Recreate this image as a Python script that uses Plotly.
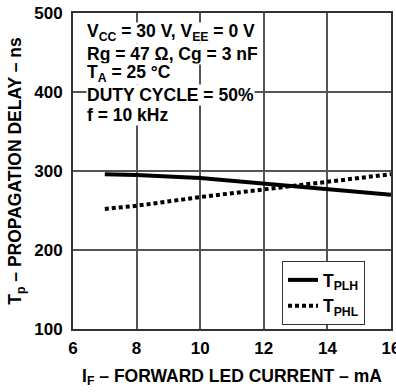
import plotly.graph_objects as go

x_current = [7, 8, 10, 12, 14, 16]
tplh = [296, 295, 291, 284, 277, 270]
tphl = [252, 256, 267, 277, 286, 296]

x_ticks = [6, 8, 10, 12, 14, 16]
y_ticks = [100, 200, 300, 400, 500]

cond_lines = [
    "V<sub>CC</sub> = 30 V, V<sub>EE</sub> = 0 V",
    "Rg = 47 Ω, Cg = 3 nF",
    "T<sub>A</sub> = 25 °C",
    "DUTY CYCLE = 50%",
    "f = 10 kHz",
]
cond_y = [33, 54, 74, 95, 115]  # pixel centers

FONT = "Liberation Sans, Arial, sans-serif"
W, H = 396, 392
L, R, T, B = 73, 5, 13, 63
pw = W - L - R
ph = H - T - B

fig = go.Figure()
fig.add_trace(go.Scatter(x=x_current, y=tplh, mode="lines", name="T<sub>PLH</sub>",
                         line=dict(color="black", width=4)))
fig.add_trace(go.Scatter(x=x_current, y=tphl, mode="lines", name="T<sub>PHL</sub>",
                         line=dict(color="black", width=4, dash="4px,3px")))

for txt, py in zip(cond_lines, cond_y):
    fig.add_annotation(text=txt, xref="paper", yref="paper", x=(86 - L) / pw,
                       y=(H - B - py) / ph, xanchor="left", yanchor="middle", showarrow=False,
                       bgcolor="white", borderpad=0, height=19.5, valign="middle",
                       font=dict(family=FONT, size=17.5, color="black", weight="bold"))

axis_common = dict(showgrid=True, gridcolor="#555", gridwidth=1.5, zeroline=False,
                   showline=True, linecolor="#333", linewidth=2, mirror=True,
                   ticks="", automargin=False,
                   tickfont=dict(family=FONT, size=17, color="black", weight="bold"))

fig.update_layout(
    template="none",
    width=W, height=H,
    margin=dict(l=L, r=R, t=T, b=B, autoexpand=False),
    paper_bgcolor="white", plot_bgcolor="white",
    font=dict(family=FONT, size=16, color="black", weight="bold"),
    showlegend=True,
    legend=dict(x=(282 - L) / pw, y=(H - B - 261) / ph, xanchor="left", yanchor="top",
                bgcolor="white", bordercolor="#333", borderwidth=1,
                font=dict(family=FONT, size=17.5, color="black", weight="bold"),
                tracegroupgap=0, itemwidth=30),
    xaxis=dict(range=[6, 16], tickvals=x_ticks, ticklabelstandoff=3,
               ticklabeloverflow="allow",
               title=dict(text="I<sub>F</sub> – FORWARD LED CURRENT – mA", standoff=12,
                          font=dict(family=FONT, size=17.5, color="black", weight="bold")),
               **axis_common),
    yaxis=dict(range=[100, 500], tickvals=y_ticks, ticklabelstandoff=5,
               ticklabeloverflow="allow",
               title=dict(text="T<sub>p</sub> – PROPAGATION DELAY – ns", standoff=8,
                          font=dict(family=FONT, size=17.5, color="black", weight="bold")),
               **axis_common),
)

fig.write_html("out.html", config={"displayModeBar": False},
               post_script="document.body.style.margin='0';document.body.style.overflow='hidden';")
